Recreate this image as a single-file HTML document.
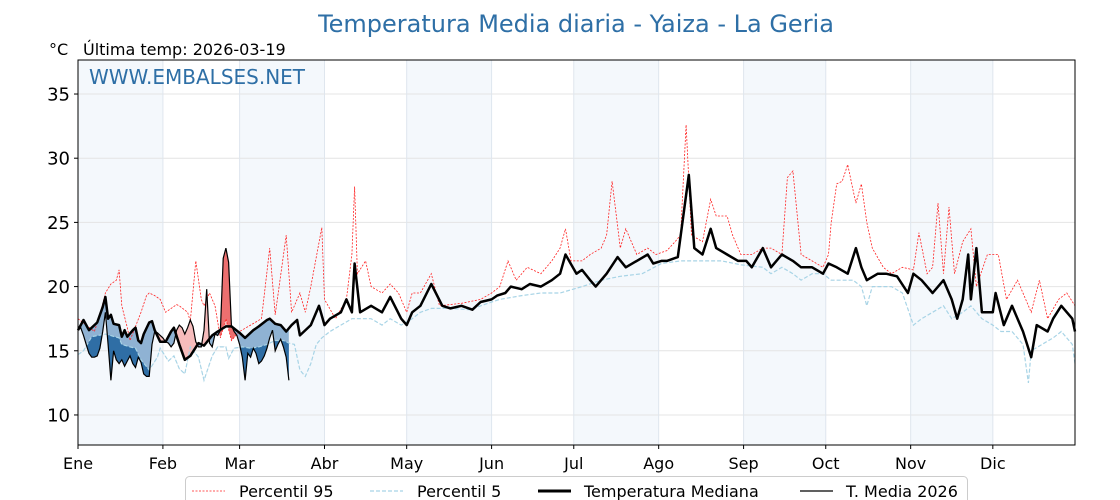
<!DOCTYPE html>
<html><head><meta charset="utf-8"><style>
body{margin:0;background:#fff;}
svg{display:block;font-family:"DejaVu Sans","Liberation Sans",sans-serif;}
</style></head><body>
<svg id="chart" width="1120" height="500" viewBox="0 0 1120 500">
<text x="576" y="32" text-anchor="middle" font-size="24" fill="#2e6fa6">Temperatura Media diaria - Yaiza - La Geria</text>
<text x="49" y="55" font-size="16" fill="#000">°C</text>
<text x="83" y="55" font-size="16" fill="#000">Última temp: 2026-03-19</text>
<g id="plot"></g>
</svg>
<script>
const monthLabels=["Ene","Feb","Mar","Abr","May","Jun","Jul","Ago","Sep","Oct","Nov","Dic"];
const monthStarts=[0,31,59,90,120,151,181,212,243,273,304,334];
const yTicks=[10,15,20,25,30,35];
const medDays=[0,2,4,7,9,10,11,12,13,15,16,17,18,20,21,22,23,24,26,27,28,30,32,34,35,37,39,41,44,46,49,51,54,56,59,61,64,66,69,70,72,74,76,78,80,81,85,88,90,92,96,98,100,101,103,107,111,114,118,120,122,125,129,133,136,140,144,147,151,153,156,158,162,165,169,173,176,178,182,184,187,189,193,197,200,204,208,210,213,215,219,223,225,228,231,233,237,241,244,246,250,253,257,261,264,268,272,274,277,281,284,286,288,292,295,299,303,305,308,312,316,319,321,323,325,326,328,330,334,335,338,341,345,348,350,354,356,359,363,364];
const medVals=[16.6,17.4,16.6,17.2,18.4,19.2,17.5,17.8,17.1,17,16.1,16.6,16.1,16.6,16.8,15.8,15.6,16.3,17.2,17.3,16.6,15.7,15.7,16.5,16.8,15.5,14.3,14.6,15.6,15.4,16.2,16.5,16.9,16.9,16.4,16,16.6,16.9,17.4,17.5,17.1,17,16.5,17,17.4,16.2,17,18.5,17,17.5,18,19,18,21.8,18,18.5,18,19.2,17.5,17,18,18.5,20.2,18.5,18.3,18.5,18.2,18.8,19,19.3,19.5,20,19.8,20.2,20,20.5,21,22.5,21,21.3,20.5,20,21,22.3,21.5,22,22.5,21.8,22,22,22.3,28.7,23,22.5,24.5,23,22.5,22,22,21.5,23,21.5,22.5,22,21.5,21.5,21,21.8,21.5,21,23,21.5,20.5,21,21,20.8,19.5,21,20.5,19.5,20.5,19,17.5,19,22.5,19,23,18,18,19.5,17,18.5,16.5,14.5,17,16.5,17.5,18.5,17.5,16.5];
const p95Days=[0,6,8,10,12,14,15,16,18,19,23,25,26,28,30,32,34,36,37,40,41,43,45,46,48,50,52,54,56,59,63,67,70,72,76,78,81,83,85,89,90,94,98,100,101,102,105,107,111,114,117,120,122,125,129,132,140,147,151,154,157,160,164,169,173,176,178,180,184,187,191,193,195,198,200,204,208,211,215,218,220,222,224,228,231,233,237,239,242,246,250,253,257,259,261,264,268,272,274,275,277,279,281,283,284,286,288,290,294,297,301,305,307,310,312,314,316,318,320,323,326,328,332,336,339,343,346,348,351,354,358,361,364];
const p95Vals=[17.5,16.5,17.8,19.5,20.2,20.5,21.3,18.5,16.8,15.8,18,19.3,19.5,19.3,19,18,18.3,18.6,18.5,18,17.3,22,19,18.5,19.5,18.5,16,17.5,15.8,16.5,17,17.5,23,17.8,24,18,19.5,18,20,24.6,19,17.5,19,22.5,27.8,21,22,20,19.5,20.2,19.5,18,19.5,19.5,21,18.5,18.7,19,19.5,20,22,20.5,21.5,21,22,23,24.5,22,22,22.5,23,24,28.2,23,24.5,22.5,23,22.5,22.8,23.5,24,32.6,24,23.5,26.8,25.5,25.5,24,22.5,22.5,23,23,22.5,28.5,29,22.5,22,21.5,22.5,25,28,28.2,29.5,27.5,26.5,28,25,23,21.5,21,21.5,21.3,24.2,21,21.5,26.5,21,26.2,21,23.5,24.5,20,22.5,22.5,19,20.5,19,18,20.5,17.5,19,19.5,18.5];
const p5Days=[0,2,5,10,15,16,19,21,23,26,29,30,33,35,37,39,41,44,46,49,51,54,55,57,60,63,66,69,72,75,77,79,81,83,85,87,89,92,96,100,107,111,114,118,122,125,129,136,143,151,154,162,169,176,184,191,198,206,213,220,228,235,242,250,253,257,261,264,268,272,275,283,286,288,290,294,297,301,305,308,312,316,319,323,326,330,334,337,341,345,347,348,352,356,359,363,364];
const p5Vals=[14.7,15,16.1,16.3,16,15.5,15.3,15.2,14.3,13.5,14.5,15.2,14.2,14.6,13.6,13.2,15.3,14.5,12.7,14.6,15.3,15.3,14.4,15.2,15.3,15.2,15.3,15.5,15.8,15.8,15.6,15.5,13.5,13,14,15.5,16,16.5,17,17.5,17.5,17,17.5,17,17.5,18,18.3,18.3,18.2,18.8,19,19.3,19.5,19.5,20,20.5,20.8,21,21.8,22,22,22,21.7,21.5,21,21.5,21,20.5,21,21,20.5,20.5,20,18.5,20,20,20,19.5,17,17.5,18,18.5,17.5,18,18.5,17.5,17,16.5,16.5,15.5,12.5,15,15.5,16,16.5,15.5,14];
const t2026=[16.6,16.8,16.2,15.5,14.8,14.5,14.5,14.6,15.2,16.5,18,15.5,12.7,15,14.3,14,14.3,13.8,14.2,14.6,14,13.7,14.5,14.1,13.2,13,13,15.5,16.5,16.4,16.2,16,15.7,15.6,15.3,15.6,16.6,17,16.8,16.3,16.8,17.4,16.9,15.7,15.3,15.3,16.6,19.8,15.6,15.3,16.3,16.2,16.6,22.2,23,21.9,17,16.5,16.2,15.5,14.5,12.7,14.8,14.5,15.2,14.8,14,14.2,14.6,15.2,16,16.6,15,15.5,15.9,15.3,14.5,12.7];

const NS="http://www.w3.org/2000/svg";
const L=78,R=1075,T=60,B=445,Y0=7.66,Y1=37.65;
const xs=d=>L+d*(R-L)/364;
const ys=v=>B-(v-Y0)*(B-T)/(Y1-Y0);
const plot=document.getElementById('plot');
function mk(tag,attrs,parent){const e=document.createElementNS(NS,tag);for(const k in attrs)e.setAttribute(k,attrs[k]);(parent||plot).appendChild(e);return e;}
function interp(days,vals,d){for(let i=0;i<days.length-1;i++){if(d>=days[i]&&d<=days[i+1]){const f=(d-days[i])/((days[i+1]-days[i])||1);return vals[i]+f*(vals[i+1]-vals[i]);}}return vals[vals.length-1];}
function pts(days,vals){return days.map((d,i)=>xs(d).toFixed(1)+","+ys(vals[i]).toFixed(1)).join(" ");}

for(let i=0;i<12;i+=2){const s=monthStarts[i],e=i+1<12?monthStarts[i+1]:364;
const r=mk('rect',{x:xs(s),y:T,width:xs(e)-xs(s),height:B-T,fill:'#f4f8fc'});

}
yTicks.forEach(v=>{const l=mk('line',{x1:L,x2:R,y1:ys(v),y2:ys(v),stroke:'#e4e4e4','stroke-width':1});

});
monthStarts.forEach(s=>{const l=mk('line',{x1:xs(s),x2:xs(s),y1:T,y2:B,stroke:'#dfe6ee','stroke-width':1});

});

const tDays=t2026.map((v,i)=>i);
const medAtT=tDays.map(d=>interp(medDays,medVals,d));
const p5AtT=tDays.map(d=>interp(p5Days,p5Vals,d));
const p95AtT=tDays.map(d=>interp(p95Days,p95Vals,d));
const defs=mk('defs',{});
function clipPoly(id,days,vals,edge){const c=mk('clipPath',{id:id},defs);
const n=days.length;mk('polygon',{points:pts(days,vals)+" "+xs(days[n-1])+","+edge+" "+xs(days[0])+","+edge},c);}
clipPoly('belowMed',tDays,medAtT,B);clipPoly('aboveMed',tDays,medAtT,T);
clipPoly('belowP5',tDays,p5AtT,B);clipPoly('aboveP95',tDays,p95AtT,T);
function band(a,b,clip,fill,name){const rev=tDays.slice().reverse();
const p=mk('polygon',{points:pts(tDays,a)+" "+pts(rev,b.slice().reverse()),fill:fill,'clip-path':'url(#'+clip+')'});

}
band(medAtT,t2026,'belowMed','#8fb2d3','below-median-fill');
band(p5AtT,t2026,'belowP5','#2f6ea5','below-p5-fill');
band(medAtT,t2026,'aboveMed','#f6bcbc','above-median-fill');
band(p95AtT,t2026,'aboveP95','#ec6f6f','above-p95-fill');

let e;
e=mk('polyline',{points:pts(p95Days,p95Vals),fill:'none',stroke:'#ff2020','stroke-width':0.8,'stroke-dasharray':'2,1.5'});


e=mk('polyline',{points:pts(p5Days,p5Vals),fill:'none',stroke:'#a8d4e6','stroke-width':1.2,'stroke-dasharray':'4,2'});


e=mk('polyline',{points:pts(medDays,medVals),fill:'none',stroke:'#000','stroke-width':2.5,'stroke-linejoin':'round'});


e=mk('polyline',{points:pts(tDays,t2026),fill:'none',stroke:'#000','stroke-width':1.2});



e=mk('rect',{x:L,y:T,width:R-L,height:B-T,fill:'none',stroke:'#000','stroke-width':1});


e=mk('text',{x:89,y:84,'font-size':20,fill:'#2e6fa6'});e.textContent='WWW.EMBALSES.NET';


yTicks.forEach(v=>{mk('line',{x1:L-4,x2:L,y1:ys(v),y2:ys(v),stroke:'#000'});
const t=mk('text',{x:L-8,y:ys(v)+6.5,'text-anchor':'end','font-size':18});t.textContent=v;

});
monthStarts.forEach((s,i)=>{mk('line',{x1:xs(s),x2:xs(s),y1:B,y2:B+4,stroke:'#000'});
const t=mk('text',{x:xs(s),y:B+24,'text-anchor':'middle','font-size':16});t.textContent=monthLabels[i];

});

const lg=mk('g',{});


mk('rect',{x:185.5,y:476.5,width:782,height:30,rx:4,fill:'#fff',stroke:'#ccc'},lg);
const items=[["Percentil 95",192,239,{stroke:'#ff2020','stroke-width':0.8,'stroke-dasharray':'2,1.5'}],
["Percentil 5",370,417,{stroke:'#a8d4e6','stroke-width':1.2,'stroke-dasharray':'4,2'}],
["Temperatura Mediana",538,584,{stroke:'#000','stroke-width':3}],
["T. Media 2026",800,846,{stroke:'#000','stroke-width':1.2}]];
items.forEach(it=>{const g=mk('g',{},lg);


mk('line',Object.assign({x1:it[1],x2:it[1]+33,y1:491,y2:491},it[3]),g);
const t=mk('text',{x:it[2],y:497,'font-size':16},g);t.textContent=it[0];});
</script>
</body></html>
